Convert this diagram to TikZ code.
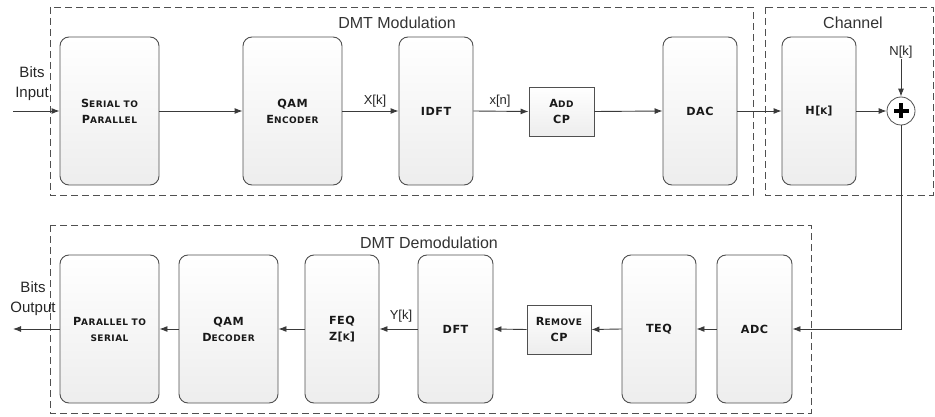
\documentclass[tikz,border=0pt]{standalone}
\usepackage{fontspec}
\setmainfont{Liberation Sans}
\newfontfamily\blkfont[LetterSpace=5]{DejaVu Sans}
\usetikzlibrary{arrows.meta,calc}
% fake small caps: large initial, smaller capitals after it
\newcommand\bigc[1]{{\fontsize{11.2}{13}\selectfont #1}}
\newcommand\smc[1]{{\fontsize{9}{13}\selectfont #1}}
\definecolor{edge}{HTML}{505050}
\definecolor{wire}{HTML}{3A3A3A}
\begin{document}
\begin{tikzpicture}[x=1pt,y=-1pt,
  blk/.style={draw=edge, line width=0.9pt, rounded corners=9pt,
    top color=white, bottom color=gray!14, align=center,
    font=\blkfont\bfseries, text=black!90, inner sep=0pt},
  sqbox/.style={draw=edge, line width=0.9pt, top color=white, bottom color=gray!14,
    align=center, font=\blkfont\bfseries, text=black!90, inner sep=0pt},
  group/.style={draw=edge, dashed, dash pattern=on 7pt off 4pt, line width=0.8pt},
  lbl/.style={font=\fontsize{13}{15}\selectfont, text=black!85, inner sep=1pt},
  io/.style={font=\fontsize{15}{20}\selectfont, text=black!85, inner sep=1pt, align=center},
  title/.style={font=\fontsize{16}{18}\selectfont, text=black!80},
  flow/.style={draw=wire, line width=0.9pt, -{Latex[length=8pt,width=6pt]}}
]
\useasboundingbox (0,0) rectangle (935,417);

% group frames
\draw[group] (50,7) rectangle (753,195);
\draw[group] (765,7) rectangle (933,195);
\draw[group] (50,225) rectangle (811,413);
\node[title] (tmod) at (397,23) {DMT Modulation};
\node[title] (tch) at (853,23) {Channel};
\node[title] (tdem) at (429,243) {DMT Demodulation};

% transmitter chain
\node[blk, minimum width=99pt, minimum height=148pt] (sp) at (109.5,111)
  {\bigc{S}\smc{ERIAL TO}\\[4pt]\bigc{P}\smc{ARALLEL}};
\node[blk, minimum width=99pt, minimum height=148pt] (qenc) at (292.5,111)
  {\bigc{QAM}\\[4pt]\bigc{E}\smc{NCODER}};
\node[blk, minimum width=74pt, minimum height=148pt] (idft) at (436,111) {\bigc{IDFT}};
\node[sqbox, minimum width=65pt, minimum height=49pt] (acp) at (561.5,111.5)
  {\bigc{A}\smc{DD}\\[4pt]\bigc{CP}};
\node[blk, minimum width=74pt, minimum height=148pt] (dac) at (700,111) {\bigc{DAC}};

% channel
\node[blk, minimum width=74pt, minimum height=148pt] (hk) at (819,111) {\bigc{H[}\smc{K}\bigc{]}};
\node[circle, draw=edge, line width=0.8pt, fill=white, minimum size=28pt, inner sep=0pt] (sum) at (901,111) {};
\fill[black] ($(sum.center)+(-7.5,-2.2)$) rectangle ($(sum.center)+(7.5,2.2)$);
\fill[black] ($(sum.center)+(-2.2,-7.5)$) rectangle ($(sum.center)+(2.2,7.5)$);
\node[lbl] (nk) at (901,52) {N[k]};

% receiver chain
\node[blk, minimum width=99pt, minimum height=148pt] (ps) at (109.5,329)
  {\bigc{P}\smc{ARALLEL TO}\\[4pt]\smc{SERIAL}};
\node[blk, minimum width=99pt, minimum height=148pt] (qdec) at (228.5,329)
  {\bigc{QAM}\\[4pt]\bigc{D}\smc{ECODER}};
\node[blk, minimum width=74pt, minimum height=148pt] (feq) at (342,329)
  {\bigc{FEQ}\\[4pt]\bigc{Z[}\smc{K}\bigc{]}};
\node[blk, minimum width=75pt, minimum height=148pt] (dft) at (455.5,329) {\bigc{DFT}};
\node[sqbox, minimum width=64pt, minimum height=49pt] (rcp) at (559,329.5)
  {\bigc{R}\smc{EMOVE}\\[4pt]\bigc{CP}};
\node[blk, minimum width=74pt, minimum height=148pt] (teq) at (659,329) {\bigc{TEQ}};
\node[blk, minimum width=75pt, minimum height=148pt] (adc) at (754.5,329) {\bigc{ADC}};

% signal labels
\node[io] (bin) at (32,84) {Bits\\Input};
\node[io] (bout) at (33,299) {Bits\\Output};
\node[lbl] (xk) at (375,101) {X[k]};
\node[lbl] (xn) at (500,101) {x[n]};
\node[lbl] (yk) at (401,316) {Y[k]};

% transmitter connections
\coordinate (src) at (13,111);
\draw[flow] (src) -- (sp.west);
\draw[flow] (sp.east) -- (qenc.west);
\draw[flow] (qenc.east) -- (idft.west);
\draw[flow] (idft.east) -- (acp.west);
\draw[flow] (acp.east) -- (dac.west);
\draw[flow] (dac.east) -- (hk.west);
\draw[flow] (hk.east) -- (sum.west);
\draw[flow] (nk.south) -- (sum.north);

% channel output back to receiver
\draw[flow] (sum.south) |- (adc.east);

% receiver connections
\coordinate (sink) at (13,329);
\draw[flow] (adc.west) -- (teq.east);
\draw[flow] (teq.west) -- (rcp.east);
\draw[flow] (rcp.west) -- (dft.east);
\draw[flow] (dft.west) -- (feq.east);
\draw[flow] (feq.west) -- (qdec.east);
\draw[flow] (qdec.west) -- (ps.east);
\draw[flow] (ps.west) -- (sink);
\end{tikzpicture}
\end{document}
